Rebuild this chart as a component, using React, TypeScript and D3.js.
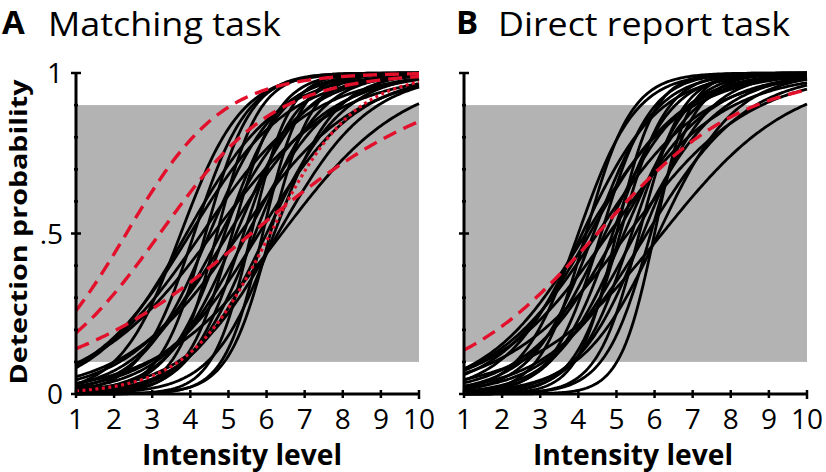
import React from "react";
import * as d3 from "d3";

// ---- data (logistic fits: midpoint & spread per curve) ----
const intensityTicks = [1, 2, 3, 4, 5, 6, 7, 8, 9, 10];
const yTickValues = [0, 0.1, 0.2, 0.3, 0.4, 0.5, 0.6, 0.7, 0.8, 0.9, 1];
const yTickLabels = ["0", ".5", "1"];
const yLabelValues = [0, 0.5, 1];
const shadedBand = [0.1, 0.9];

const matchBlackMid = [3.75, 3.9, 4.0, 4.1, 4.3, 4.4, 4.5, 4.6, 4.7, 4.8, 4.9, 5.0, 5.1, 5.2, 5.3, 5.4, 5.5, 5.6, 5.7, 5.8, 5.9, 6.0, 6.1, 6.2, 6.4, 6.3];
const matchBlackSpread = [0.8, 1.2, 1.3, 0.7, 1.45, 0.6, 0.9, 1.6, 0.55, 1.1, 0.75, 1.3, 0.6, 0.9, 1.5, 0.7, 1.1, 0.5, 0.85, 1.3, 0.5, 1.0, 0.55, 0.8, 1.6, 1.2];
const matchRedDashedMid = [2.32, 3.2, 5.6];
const matchRedDashedSpread = [1.26, 1.52, 2.55];
const matchRedDottedMid = [6.1];
const matchRedDottedSpread = [1.1];

const reportBlackMid = [4.0, 4.1, 4.2, 4.3, 4.4, 4.5, 4.6, 4.7, 4.8, 4.9, 5.0, 5.1, 5.2, 5.3, 5.4, 5.5, 5.6, 5.7, 5.8, 5.9, 6.0, 6.1, 6.2, 4.2, 5.0];
const reportBlackSpread = [0.75, 1.0, 0.6, 1.2, 0.8, 1.4, 0.65, 1.0, 1.5, 0.75, 1.2, 0.6, 0.9, 1.6, 0.7, 1.1, 0.55, 0.85, 1.3, 0.6, 0.45, 1.0, 1.7, 1.3, 0.5];
const reportRedDashedMid = [4.5];
const reportRedDashedSpread = [1.9];

const RED = "#e3102c";
const FONT = "'Open Sans', 'DejaVu Sans', sans-serif";

const yScale = d3.scaleLinear().domain([0, 1]).range([394, 73]);
const samples = d3.range(1, 10.0001, 0.05);

function logistic(x: number, mid: number, spread: number) {
  return 1 / (1 + Math.exp(-(x - mid) / spread));
}

type PanelProps = {
  x0: number;
  x1: number;
  letter: string;
  letterX: number;
  title: string;
  titleX: number;
  titleLen: number;
  xLabelCenter: number;
  showYLabels: boolean;
  blackMid: number[];
  blackSpread: number[];
  dashedMid: number[];
  dashedSpread: number[];
  dottedMid: number[];
  dottedSpread: number[];
};

function Panel(p: PanelProps) {
  const xScale = d3.scaleLinear().domain([1, 10]).range([p.x0, p.x1]);
  const line = (mid: number, spread: number) =>
    d3
      .line<number>()
      .x((d) => xScale(d))
      .y((d) => yScale(logistic(d, mid, spread)))
      .curve(d3.curveLinear)(samples) || "";
  const axisY = yScale(0);
  return (
    <g>
      <text x={p.letterX} y={34} fontFamily={FONT} fontWeight={700} fontSize={33}>
        {p.letter}
      </text>
      <text
        x={p.titleX}
        y={36}
        fontFamily={FONT}
        fontSize={33}
        textLength={p.titleLen}
        lengthAdjust="spacingAndGlyphs"
      >
        {p.title}
      </text>
      <rect
        x={xScale(1)}
        y={yScale(shadedBand[1])}
        width={xScale(10) - xScale(1)}
        height={yScale(shadedBand[0]) - yScale(shadedBand[1])}
        fill="#b3b3b3"
      />
      {p.blackMid.map((m, i) => (
        <path key={"b" + i} d={line(m, p.blackSpread[i])} fill="none" stroke="#000" strokeWidth={2.8} />
      ))}
      {p.dottedMid.map((m, i) => (
        <path
          key={"o" + i}
          d={line(m, p.dottedSpread[i])}
          fill="none"
          stroke={RED}
          strokeWidth={3.2}
          strokeDasharray="3,3.5"
        />
      ))}
      {p.dashedMid.map((m, i) => (
        <path
          key={"r" + i}
          d={line(m, p.dashedSpread[i])}
          fill="none"
          stroke={RED}
          strokeWidth={3.4}
          strokeDasharray="14,8"
        />
      ))}
      {/* y axis */}
      <line x1={p.x0} x2={p.x0} y1={yScale(1)} y2={axisY} stroke="#000" strokeWidth={3} />
      {yTickValues.map((v) => {
        const major = yLabelValues.includes(v);
        const half = major ? 5 : 2;
        return (
          <line
            key={"yt" + v}
            x1={p.x0 - half}
            x2={p.x0 + half}
            y1={yScale(v)}
            y2={yScale(v)}
            stroke="#000"
            strokeWidth={2.5}
          />
        );
      })}
      {p.showYLabels &&
        yLabelValues.map((v, i) => (
          <text
            key={"yl" + v}
            x={p.x0 - 13}
            y={yScale(v) + 10}
            textAnchor="end"
            fontFamily={FONT}
            fontSize={28}
          >
            {yTickLabels[i]}
          </text>
        ))}
      {/* x axis */}
      <line x1={p.x0} x2={p.x1} y1={axisY} y2={axisY} stroke="#000" strokeWidth={3} />
      {intensityTicks.map((t) => (
        <line
          key={"xt" + t}
          x1={xScale(t)}
          x2={xScale(t)}
          y1={axisY - 4}
          y2={axisY + (t === 10 ? 5 : 4)}
          stroke="#000"
          strokeWidth={2.5}
        />
      ))}
      {intensityTicks.map((t) => (
        <text
          key={"xl" + t}
          x={xScale(t)}
          y={429}
          textAnchor="middle"
          fontFamily={FONT}
          fontSize={28}
        >
          {t}
        </text>
      ))}
      <text
        x={p.xLabelCenter}
        y={465}
        textAnchor="middle"
        fontFamily={FONT}
        fontWeight={700}
        fontSize={28}
        textLength={200}
        lengthAdjust="spacingAndGlyphs"
      >
        Intensity level
      </text>
    </g>
  );
}

export default function App() {
  return (
    <svg
      width={826}
      height={472}
      viewBox="0 0 826 472"
      style={{ position: "absolute", left: 0, top: 0, background: "#fff" }}
    >
      <rect x={0} y={0} width={826} height={472} fill="#fff" />
      <text
        transform="translate(27,232) rotate(-90)"
        textAnchor="middle"
        fontFamily={FONT}
        fontWeight={700}
        fontSize={24}
        textLength={305}
        lengthAdjust="spacingAndGlyphs"
      >
        Detection probability
      </text>
      <Panel
        x0={76}
        x1={419}
        letter="A"
        letterX={2}
        title="Matching task"
        titleX={48}
        titleLen={233}
        xLabelCenter={242}
        showYLabels={true}
        blackMid={matchBlackMid}
        blackSpread={matchBlackSpread}
        dashedMid={matchRedDashedMid}
        dashedSpread={matchRedDashedSpread}
        dottedMid={matchRedDottedMid}
        dottedSpread={matchRedDottedSpread}
      />
      <Panel
        x0={464}
        x1={807}
        letter="B"
        letterX={456}
        title="Direct report task"
        titleX={498}
        titleLen={292}
        xLabelCenter={633}
        showYLabels={false}
        blackMid={reportBlackMid}
        blackSpread={reportBlackSpread}
        dashedMid={reportRedDashedMid}
        dashedSpread={reportRedDashedSpread}
        dottedMid={[]}
        dottedSpread={[]}
      />
    </svg>
  );
}
